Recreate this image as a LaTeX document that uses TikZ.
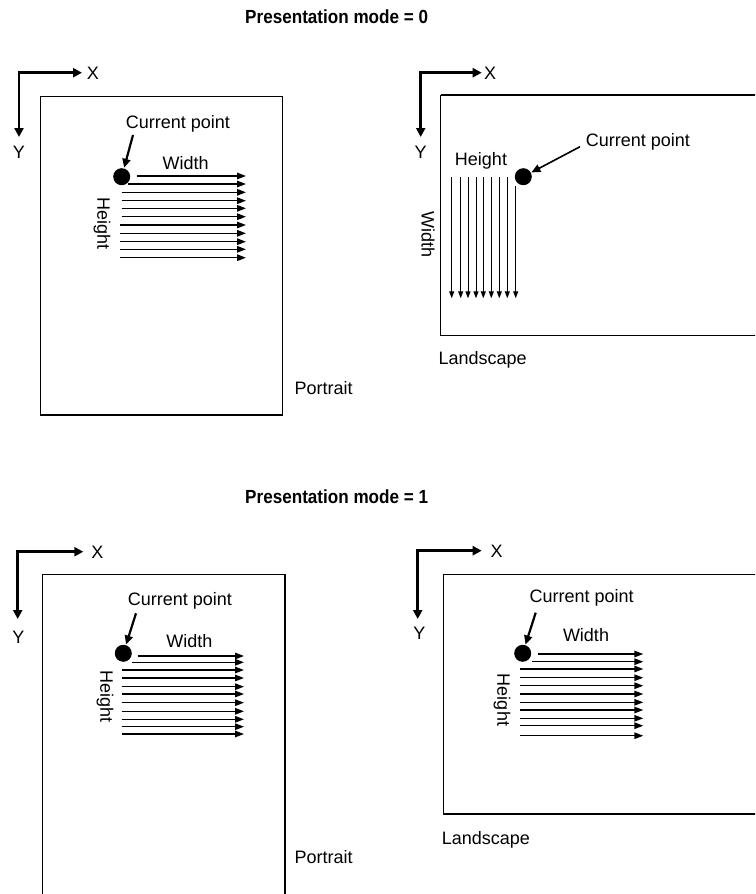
\documentclass[tikz,border=0pt]{standalone}
\usepackage{fontspec}
\setmainfont{Liberation Sans}
\newfontfamily\titlefont[FakeStretch=0.9]{Liberation Sans}
\usetikzlibrary{arrows.meta}
\begin{document}
\begin{tikzpicture}[x=1pt,y=-1pt,
  lbl/.style={font=\fontsize{18}{20}\selectfont, inner sep=0pt, anchor=base},
  vlbl/.style={font=\fontsize{18}{20}\selectfont, inner sep=0pt, rotate=-90},
  ttl/.style={font=\titlefont\bfseries\fontsize{19}{21}\selectfont, inner sep=0pt, anchor=base},
  page/.style={line width=1.3pt},
  axis/.style={line width=2.6pt, {Triangle[length=9pt,width=9pt]}-{Triangle[length=9pt,width=9pt]}},
  warrow/.style={line width=1.4pt, -{Triangle[length=9pt,width=6.5pt]}},
  varrow/.style={line width=1pt, -{Triangle[length=7pt,width=5pt]}},
  cparrow/.style={line width=2.2pt, -{Triangle[length=9pt,width=8pt]}, shorten >=0.5pt},
  dotnode/.style={circle, fill, inner sep=0pt, minimum size=17pt}]
\useasboundingbox (0,0) rectangle (755,894);
\clip (0,0) rectangle (755,894);

% ---------------- Titles ----------------
\node[ttl] (t0) at (336.7,23.7) {Presentation mode = 0};
\node[ttl] (t1) at (336.7,503) {Presentation mode = 1};

% ================= Section 0 : Portrait =================
\draw[page] (40.7,96.7) rectangle (282.5,415);
\coordinate (a0x) at (82,72.7);
\coordinate (a0c) at (19,72.7);
\coordinate (a0y) at (19,137);
\draw[axis] (a0x) -- (a0c) -- (a0y);
\node[lbl] (x0) at (93,79.5) {X};
\node[lbl] (y0) at (19,158.5) {Y};
\node[lbl] (cp0) at (178,128.2) {Current point};
\node[dotnode] (d0) at (121.7,176.7) {};
\coordinate (c0s) at (133,135);
\draw[cparrow] (c0s) -- (d0);
\node[lbl] (w0) at (185.7,169.2) {Width};
\node[vlbl] (h0) at (102,223.3) {Height};
\foreach \sx/\sy [count=\i] in {136.7/176,128/184,121.7/192.3,121.7/200.7,121.7/208.3,121.7/216.7,120/225,120/233.3,120/241.7,120/249.3,120/257.7}{
  \coordinate (p0s\i) at (\sx,\sy);
  \coordinate (p0e\i) at (246,\sy);
  \draw[warrow] (p0s\i) -- (p0e\i);
}
\node[lbl, anchor=west] (pt0) at (294.3,388.3) {Portrait};

% ================= Section 0 : Landscape =================
\draw[page] (440.7,95) -- (760,95) (440.7,95) -- (440.7,335.5) -- (760,335.5);
\coordinate (b0x) at (481.7,72.7);
\coordinate (b0c) at (420.7,72.7);
\coordinate (b0y) at (420.7,137);
\draw[axis] (b0x) -- (b0c) -- (b0y);
\node[lbl] (x1) at (490,79.5) {X};
\node[lbl] (y1) at (420.7,158.2) {Y};
\node[lbl] (cp1) at (638,146.5) {Current point};
\node[dotnode] (d1) at (523.3,176.7) {};
\coordinate (c1s) at (580,146.7);
\draw[cparrow, line width=1.6pt] (c1s) -- (d1);
\node[lbl] (hl1) at (481,165.5) {Height};
\node[vlbl] (wl1) at (428,235) {Width};
\foreach \sx/\sy [count=\i] in {451.7/177,460.7/177,468/177,476/177,483.3/177,491.3/177,499.3/177,507.3/177,515.7/186}{
  \coordinate (q0s\i) at (\sx,\sy);
  \coordinate (q0e\i) at (\sx,298.3);
  \draw[varrow] (q0s\i) -- (q0e\i);
}
\node[lbl, anchor=west] (ls0) at (438.3,360) {Landscape};
\path (ls0.west) ++(0,0);

% ================= Section 1 : Portrait =================
\draw[page] (42.3,574.3) rectangle (285,900);
\coordinate (a1x) at (83.3,551.7);
\coordinate (a1c) at (17.7,551.7);
\coordinate (a1y) at (17.7,619);
\draw[axis] (a1x) -- (a1c) -- (a1y);
\node[lbl] (x2) at (97.3,558.8) {X};
\node[lbl] (y2) at (18.3,643.2) {Y};
\node[lbl] (cp2) at (180,605.5) {Current point};
\node[dotnode] (d2) at (123.3,653.3) {};
\coordinate (c2s) at (136,613.3);
\draw[cparrow] (c2s) -- (d2);
\node[lbl] (w2) at (189.3,647.5) {Width};
\node[vlbl] (h2) at (105,696.7) {Height};
\foreach \sx/\sy [count=\i] in {137.7/656,131.7/662.3,121.7/670,121.7/678,121.7/686.7,121.7/694,121.7/702.7,121.7/711.3,121.7/719.3,121.7/726.7,121.7/734}{
  \coordinate (p1s\i) at (\sx,\sy);
  \coordinate (p1e\i) at (244,\sy);
  \draw[warrow] (p1s\i) -- (p1e\i);
}
\node[lbl, anchor=west] (pt1) at (294.3,857.3) {Portrait};

% ================= Section 1 : Landscape =================
\draw[page] (443.3,574.5) -- (760,574.5) (443.3,574.5) -- (443.3,814) -- (760,814);
\coordinate (b1x) at (481.7,550.7);
\coordinate (b1c) at (417.7,550.7);
\coordinate (b1y) at (417.7,619);
\draw[axis] (b1x) -- (b1c) -- (b1y);
\node[lbl] (x3) at (496.7,557.5) {X};
\node[lbl] (y3) at (419.3,639.5) {Y};
\node[lbl] (cp3) at (581.7,602.5) {Current point};
\node[dotnode] (d3) at (522.7,653.3) {};
\coordinate (c3s) at (535.7,612.7);
\draw[cparrow] (c3s) -- (d3);
\node[lbl] (w3) at (586,641.5) {Width};
\node[vlbl] (h3) at (502,700) {Height};
\foreach \sx/\sy [count=\i] in {538.3/654,531.7/661.7,520/669,520/677.7,520/685.7,520/694,520/702.3,520/710,520/718.3,520/725.7,520/735.7}{
  \coordinate (p2s\i) at (\sx,\sy);
  \coordinate (p2e\i) at (643.3,\sy);
  \draw[warrow] (p2s\i) -- (p2e\i);
}
\node[lbl, anchor=west] (ls1) at (441.7,840) {Landscape};
\end{tikzpicture}
\end{document}
